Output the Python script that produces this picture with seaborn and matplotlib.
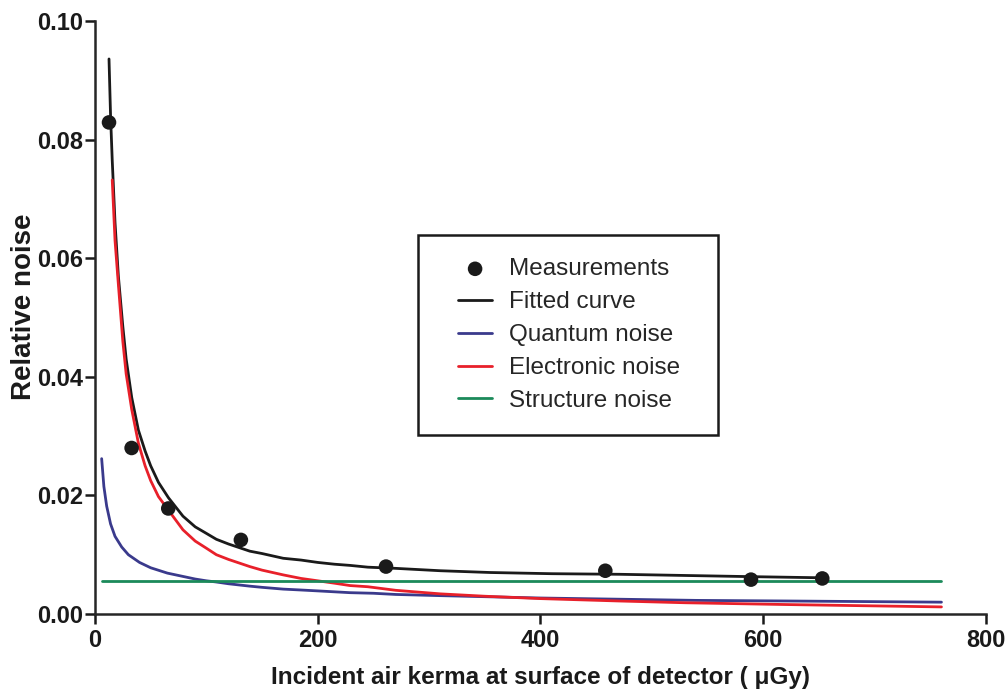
import matplotlib
matplotlib.use("Agg")
import matplotlib.pyplot as plt
from matplotlib.lines import Line2D
from matplotlib.collections import PathCollection
from matplotlib.legend_handler import HandlerLine2D, HandlerPathCollection
import seaborn as sns
import pandas as pd

# Measured relative noise vs. incident air kerma (uGy)
meas_kerma = [12.6, 32.9, 65.8, 131.0, 261.3, 458.2, 589.0, 653.0]
meas_noise = [0.0829, 0.0280, 0.0178, 0.0125, 0.0080, 0.0073, 0.0058, 0.0060]

# Fitted total-noise curve
fit_kerma = [12.6, 14, 15.5, 18, 21, 25, 28, 33, 39, 45, 50, 57, 66, 79, 90,
             100, 109, 120, 139, 150, 169, 185, 200, 215, 229, 245, 270, 310,
             355, 410, 471, 530, 590, 656]
fit_noise = [0.0936, 0.0840, 0.0765, 0.0660, 0.0570, 0.0485, 0.0430, 0.0365,
             0.0310, 0.0275, 0.0250, 0.0222, 0.0196, 0.0165, 0.0147, 0.0136,
             0.0126, 0.0118, 0.0106, 0.0102, 0.0094, 0.0091, 0.0087, 0.0084,
             0.0082, 0.0079, 0.0077, 0.0073, 0.0070, 0.0068, 0.0067, 0.0065,
             0.0063, 0.0061]

# Quantum noise component
quant_kerma = [6, 8, 10.5, 14, 18, 24, 30, 40, 50, 65, 80, 90, 100, 109, 120,
               139, 150, 169, 185, 200, 229, 250, 270, 310, 400, 470, 540, 620,
               690, 760]
quant_noise = [0.0262, 0.0215, 0.0182, 0.0152, 0.0131, 0.0113, 0.0100, 0.0087,
               0.0078, 0.0069, 0.0063, 0.0059, 0.0056, 0.0054, 0.0051, 0.0047,
               0.0045, 0.0042, 0.00405, 0.0039, 0.0036, 0.0035, 0.0033, 0.0031,
               0.0027, 0.0025, 0.0023, 0.0022, 0.0021, 0.0020]

# Electronic noise component
elec_kerma = [15.5, 18, 21, 25, 28, 33, 39, 45, 50, 57, 66, 79, 90, 100, 109,
              120, 139, 150, 169, 185, 200, 215, 229, 245, 270, 290, 310, 350,
              400, 470, 530, 620, 690, 760]
elec_noise = [0.0732, 0.0630, 0.0556, 0.0460, 0.0405, 0.0345, 0.0288, 0.0250,
              0.0225, 0.0198, 0.0175, 0.0142, 0.0123, 0.0111, 0.0100, 0.0092,
              0.0080, 0.0074, 0.0066, 0.0060, 0.0056, 0.0052, 0.0048, 0.0046,
              0.0040, 0.0037, 0.0034, 0.0030, 0.0026, 0.0022, 0.0019, 0.0016,
              0.0014, 0.0012]

# Structure noise component (constant)
struct_kerma = [6, 760]
struct_noise = [0.0055, 0.0055]

x_ticks = [0, 200, 400, 600, 800]
y_ticks = [0.00, 0.02, 0.04, 0.06, 0.08, 0.10]

INK = "#1a1a1a"

sns.set_theme(style="ticks")
plt.rcParams["font.family"] = ["Liberation Sans", "DejaVu Sans"]
plt.rcParams["axes.linewidth"] = 1.8

fig = plt.figure(figsize=(10.05, 6.91), dpi=100)
ax = fig.add_axes([0.0945, 0.1114, 0.8866, 0.8582])

lines = [
    ("Fitted curve", fit_kerma, fit_noise, INK),
    ("Quantum noise", quant_kerma, quant_noise, "#3a3a8c"),
    ("Electronic noise", elec_kerma, elec_noise, "#e8202a"),
    ("Structure noise", struct_kerma, struct_noise, "#1b8a5a"),
]

sns.scatterplot(x=meas_kerma, y=meas_noise, ax=ax, color=INK, s=110,
                edgecolor="none", label="Measurements", zorder=5)
for name, xs, ys, col in lines:
    df = pd.DataFrame({"kerma": xs, "noise": ys})
    sns.lineplot(data=df, x="kerma", y="noise", ax=ax, color=col, lw=2.0,
                 label=name, sort=False, estimator=None)

ax.set_xlim(0, 800)
ax.set_ylim(0, 0.10)
ax.set_xticks(x_ticks)
ax.set_yticks(y_ticks)
ax.set_xticklabels([f"{v:d}" for v in x_ticks])
ax.set_yticklabels([f"{v:.2f}" for v in y_ticks])
sns.despine(ax=ax)
ax.tick_params(axis="both", length=7, width=1.8, color=INK)
ax.tick_params(axis="y", pad=1.5)
ax.tick_params(axis="x", pad=4)
for lab in ax.get_yticklabels() + ax.get_xticklabels():
    lab.set_fontsize(17)
    lab.set_fontweight("bold")
    lab.set_color(INK)

ax.set_xlabel("Incident air kerma at surface of detector ( μGy)", fontsize=17.5,
              fontweight="bold", color=INK, labelpad=10)
ax.set_ylabel("Relative noise", fontsize=20, fontweight="bold", color=INK)
ax.yaxis.set_label_coords(-0.065, 0.518)

# shift legend handles right inside their slots
hmap = {Line2D: HandlerLine2D(xpad=0.7),
        PathCollection: HandlerPathCollection(xpad=0.7)}
leg = ax.legend(loc="upper left", bbox_to_anchor=(0.3625, 0.3035, 0.3367, 0.3355),
                mode="expand", fontsize=17.5, frameon=True, fancybox=False,
                framealpha=1, edgecolor=INK, handlelength=2.1,
                handletextpad=0.7, borderpad=0.95, labelspacing=0.45,
                borderaxespad=0, handler_map=hmap)
leg.get_frame().set_linewidth(1.8)

fig.savefig("out.png", dpi=100)
